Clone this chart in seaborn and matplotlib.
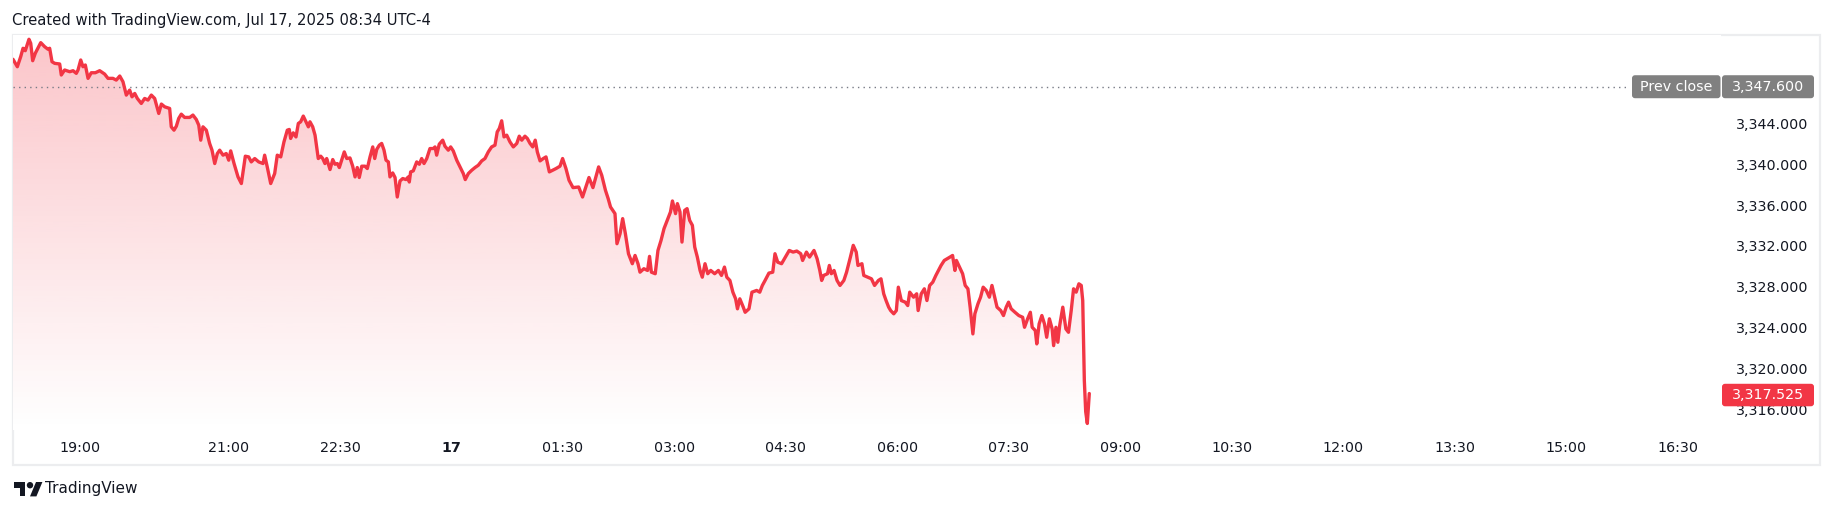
import numpy as np
import pandas as pd
import matplotlib
matplotlib.use("Agg")
import matplotlib.pyplot as plt
import seaborn as sns
from matplotlib.patches import FancyBboxPatch, Rectangle, Polygon, Circle
from matplotlib.transforms import IdentityTransform

# ---------------- data (minutes after 18:00 on Jul 16, price) ----------------
minutes = [5.9, 9.4, 12.1, 14.0, 15.8, 18.8, 20.2, 21.8, 23.9, 28.3,
           31.5, 34.2, 35.5, 37.4, 39.6, 43.6, 44.9, 47.6, 51.7, 54.4,
           57.0, 58.4, 60.6, 62.4, 64.3, 66.5, 69.1, 72.4, 75.9, 79.9,
           82.6, 86.6, 89.3, 92.1, 94.7, 97.4, 100.1, 102.0, 104.2, 106.3,
           109.5, 112.2, 114.9, 117.6, 120.3, 123.6, 125.7, 128.4, 132.4, 133.7,
           135.9, 137.8, 139.7, 141.8, 144.5, 148.6, 151.2, 153.9, 155.9, 157.5,
           159.3, 162.0, 164.7, 166.6, 168.8, 170.9, 172.8, 175.5, 178.1, 180.1,
           181.7, 184.4, 187.6, 190.3, 193.5, 196.2, 198.3, 201.1, 204.3, 207.8,
           209.1, 211.2, 214.0, 217.2, 219.3, 222.1, 224.7, 227.4, 229.0, 230.1,
           232.2, 234.4, 236.3, 238.2, 240.3, 242.5, 244.4, 245.7, 247.9, 249.8,
           252.4, 254.4, 256.0, 257.8, 259.2, 261.9, 264.1, 265.9, 267.8, 269.4,
           271.3, 273.4, 275.4, 278.0, 280.2, 282.1, 283.9, 285.5, 287.5, 290.1,
           292.0, 294.2, 296.4, 298.0, 299.6, 301.7, 303.6, 305.5, 307.1, 309.0,
           310.3, 312.5, 314.4, 316.2, 318.4, 320.6, 323.2, 325.1, 325.9, 327.0,
           329.1, 331.9, 334.0, 335.9, 337.8, 340.0, 342.6, 345.3, 346.7, 348.0,
           350.1, 352.9, 354.7, 357.4, 359.3, 361.4, 364.2, 366.9, 369.5, 371.1,
           373.6, 376.3, 379.0, 381.6, 384.4, 387.0, 389.7, 392.4, 395.1, 396.9,
           398.6, 400.5, 402.4, 404.6, 407.2, 409.9, 412.7, 414.7, 416.7, 419.3,
           421.2, 423.4, 425.6, 427.6, 429.3, 431.5, 434.1, 436.3, 439.0, 441.7,
           444.4, 447.6, 449.7, 452.4, 454.9, 458.1, 462.7, 465.8, 468.9, 471.0,
           474.2, 476.6, 478.8, 481.3, 484.3, 486.5, 488.4, 492.0, 493.6, 496.1,
           498.2, 500.4, 502.9, 506.0, 508.2, 510.6, 512.2, 515.3, 518.3, 519.9,
           521.4, 524.5, 526.7, 529.2, 531.6, 534.7, 536.8, 538.4, 540.9, 542.4,
           544.5, 546.1, 548.3, 550.2, 552.3, 554.5, 556.4, 558.5, 560.7, 562.5,
           564.7, 566.9, 569.3, 572.5, 575.5, 578.0, 580.4, 582.3, 584.8, 587.2,
           589.4, 590.9, 592.8, 595.6, 597.1, 600.2, 602.6, 606.4, 608.9, 611.0,
           613.2, 616.3, 619.4, 621.2, 623.4, 626.5, 629.6, 632.7, 635.8, 638.8,
           642.0, 643.5, 646.6, 649.1, 652.7, 655.2, 657.4, 658.9, 660.5, 663.6,
           665.1, 666.7, 668.9, 671.3, 673.7, 676.8, 679.0, 682.1, 684.4, 686.8,
           688.2, 691.4, 692.9, 696.0, 699.1, 701.6, 704.7, 706.8, 709.0, 710.9,
           713.0, 714.6, 717.1, 719.2, 720.8, 723.2, 726.4, 728.4, 730.0, 733.1,
           735.6, 736.8, 739.3, 741.8, 743.9, 746.1, 748.6, 751.1, 753.2, 755.3,
           757.9, 760.3, 762.5, 764.6, 766.5, 767.7, 770.2, 772.7, 774.8, 777.0,
           778.8, 781.0, 782.6, 785.1, 787.2, 789.3, 791.8, 794.3, 796.4, 798.6,
           800.5, 803.5, 805.7, 807.9, 809.8, 811.9, 815.0, 818.1, 821.2, 822.7,
           825.2, 827.4, 828.9, 831.4, 832.6, 834.5, 836.7, 838.8, 840.6, 842.8,
           845.0, 846.2, 848.1, 849.6, 851.1, 853.6, 856.1, 858.2, 860.4, 862.3,
           864.4, 866.6, 868.5, 869.7, 871.0, 872.1, 873.4, 875.0]

prices = [3350.29, 3349.56, 3350.54, 3351.37, 3351.13, 3352.25, 3351.86, 3350.15, 3350.88, 3351.92,
          3351.52, 3351.27, 3351.37, 3350.05, 3349.89, 3349.83, 3348.75, 3349.24, 3349.07, 3349.17,
          3348.91, 3349.24, 3350.22, 3349.56, 3349.73, 3348.42, 3348.97, 3348.97, 3349.17, 3348.84,
          3348.42, 3348.42, 3348.25, 3348.65, 3348.09, 3346.78, 3347.27, 3346.61, 3346.94, 3346.45,
          3345.96, 3346.45, 3346.29, 3346.78, 3346.45, 3344.98, 3345.90, 3345.63, 3345.47, 3343.67,
          3343.34, 3343.73, 3344.49, 3344.91, 3344.59, 3344.59, 3344.82, 3344.39, 3343.83, 3342.36,
          3343.67, 3343.34, 3342.03, 3341.38, 3340.07, 3341.05, 3341.38, 3340.89, 3341.05, 3340.40,
          3341.31, 3340.07, 3338.76, 3338.11, 3340.79, 3340.72, 3340.23, 3340.56, 3340.23, 3340.07,
          3340.89, 3339.74, 3338.11, 3339.09, 3340.89, 3340.72, 3342.19, 3343.34, 3343.41, 3342.53,
          3343.08, 3342.68, 3344.00, 3344.16, 3344.72, 3344.16, 3343.67, 3344.16, 3343.67, 3342.85,
          3340.56, 3340.79, 3340.56, 3340.07, 3340.56, 3339.48, 3340.46, 3340.00, 3340.07, 3339.68,
          3340.40, 3341.21, 3340.56, 3340.62, 3339.81, 3338.76, 3339.68, 3338.70, 3339.81, 3339.81,
          3339.58, 3340.72, 3341.70, 3340.56, 3341.45, 3341.87, 3342.04, 3341.38, 3340.40, 3340.23,
          3338.76, 3339.15, 3338.70, 3336.79, 3338.36, 3338.60, 3338.50, 3338.76, 3338.26, 3339.25,
          3339.35, 3340.23, 3340.00, 3340.56, 3340.07, 3340.56, 3341.54, 3341.54, 3341.70, 3340.89,
          3341.97, 3342.36, 3341.77, 3341.38, 3341.70, 3341.31, 3340.40, 3339.74, 3339.09, 3338.50,
          3339.09, 3339.41, 3339.68, 3339.90, 3340.33, 3340.56, 3341.21, 3341.70, 3341.87, 3343.17,
          3343.51, 3344.26, 3342.68, 3342.85, 3342.19, 3341.70, 3342.04, 3342.75, 3342.36, 3342.75,
          3342.53, 3342.04, 3341.70, 3342.36, 3341.21, 3340.33, 3340.56, 3340.72, 3339.25, 3339.41,
          3339.58, 3339.81, 3340.56, 3339.58, 3338.43, 3337.71, 3337.77, 3336.79, 3337.94, 3338.70,
          3337.71, 3338.76, 3339.74, 3338.92, 3337.45, 3336.63, 3335.81, 3335.16, 3332.21, 3333.19,
          3334.67, 3333.19, 3331.23, 3330.25, 3331.06, 3330.25, 3329.42, 3329.76, 3329.59, 3330.97,
          3329.42, 3329.27, 3331.55, 3332.54, 3333.69, 3334.67, 3335.32, 3336.40, 3335.16, 3336.14,
          3335.32, 3332.37, 3335.48, 3335.65, 3334.50, 3334.01, 3331.88, 3330.90, 3329.59, 3328.93,
          3330.25, 3329.27, 3329.59, 3329.27, 3329.59, 3329.10, 3329.92, 3328.93, 3328.61, 3327.46,
          3326.81, 3325.83, 3326.81, 3325.99, 3325.49, 3325.83, 3327.46, 3327.63, 3327.46, 3328.12,
          3328.61, 3329.33, 3329.42, 3331.23, 3330.40, 3330.25, 3330.90, 3331.55, 3331.39, 3331.49,
          3331.23, 3330.57, 3331.39, 3330.90, 3331.55, 3330.74, 3329.59, 3328.61, 3329.10, 3329.27,
          3330.08, 3329.27, 3329.59, 3328.61, 3328.12, 3328.61, 3329.42, 3330.90, 3332.05, 3331.39,
          3330.08, 3330.25, 3329.10, 3328.93, 3328.77, 3328.12, 3328.61, 3328.77, 3327.30, 3326.64,
          3325.99, 3325.66, 3325.34, 3325.66, 3327.95, 3326.64, 3326.48, 3326.15, 3327.46, 3326.97,
          3327.30, 3325.66, 3327.30, 3327.79, 3326.64, 3328.12, 3328.44, 3329.10, 3329.59, 3330.08,
          3330.57, 3330.74, 3330.90, 3331.06, 3329.59, 3330.57, 3329.92, 3329.27, 3328.12, 3327.79,
          3325.99, 3323.37, 3325.34, 3326.32, 3326.97, 3327.95, 3327.63, 3326.97, 3328.12, 3326.97,
          3325.99, 3325.66, 3325.17, 3325.99, 3326.48, 3325.83, 3325.49, 3325.17, 3325.00, 3324.02,
          3324.85, 3325.49, 3324.02, 3323.70, 3322.39, 3324.35, 3325.17, 3324.35, 3323.04, 3324.85,
          3323.86, 3322.22, 3324.02, 3322.55, 3324.19, 3325.99, 3323.86, 3323.53, 3325.66, 3327.79,
          3327.46, 3328.28, 3328.12, 3326.64, 3318.78, 3315.75, 3314.59, 3317.525]

prev_close = 3347.600
last_price = prices[-1]
price_ticks = [3316, 3320, 3324, 3328, 3332, 3336, 3340, 3344]
time_tick_minutes = [60, 180, 270, 360, 450, 540, 630, 720, 810, 900, 990, 1080, 1170, 1260, 1350]
time_tick_labels = ["19:00", "21:00", "22:30", "17", "01:30", "03:00", "04:30", "06:00",
                    "07:30", "09:00", "10:30", "12:00", "13:30", "15:00", "16:30"]
header = "Created with TradingView.com, Jul 17, 2025 08:34 UTC-4"

# ---------------- style ----------------
RED = "#F23645"
TXT = "#131722"
GRAY = "#808080"
sns.set_theme(style="white")
plt.rcParams["font.family"] = ["DejaVu Sans"]

W, H = 1835, 513
fig = plt.figure(figsize=(W / 100, H / 100), dpi=100)
fig.patch.set_facecolor("white")

# plot pane in pixel terms (top-origin)
PL, PR, PT, PB = 12.7, 1721.0, 35.0, 430.0
ax = fig.add_axes([PL / W, 1 - PB / H, (PR - PL) / W, (PB - PT) / H])
ax.set_facecolor("white")

XLIM = (5.66, 1385.1)
YLIM = (3313.95, 3352.67)

df = pd.DataFrame({"minute": minutes, "price": prices})

# gradient area fill under the line
poly = ax.fill_between(df["minute"], df["price"], YLIM[0], color="none", lw=0)
rgb = matplotlib.colors.to_rgb(RED)
grad = np.zeros((256, 1, 4))
grad[..., 0], grad[..., 1], grad[..., 2] = rgb
grad[:, 0, 3] = np.linspace(0.29, 0.0, 256)
im = ax.imshow(grad, extent=[XLIM[0], XLIM[1], YLIM[0], YLIM[1]], aspect="auto",
               origin="upper", zorder=1, interpolation="bilinear")
im.set_clip_path(poly.get_paths()[0], transform=ax.transData)

sns.lineplot(data=df, x="minute", y="price", color=RED, linewidth=2.4, ax=ax,
             zorder=4, sort=True, estimator=None)

ax.set_xlim(*XLIM)
ax.set_ylim(*YLIM)
ax.set_xlabel("")
ax.set_ylabel("")
for s in ax.spines.values():
    s.set_visible(False)
ax.grid(False)

# prev close dotted line (ends where the label starts)
label_left = 1632.0
ax.axhline(prev_close, xmin=0, xmax=(label_left - 4 - PL) / (PR - PL), color="#787B86",
           lw=1.0, linestyle=(0, (1, 3)), zorder=3)

# axes ticks
ax.yaxis.tick_right()
ax.set_yticks(price_ticks)
ax.set_yticklabels([f"{v:,.3f}" for v in price_ticks])
ax.tick_params(axis="y", length=0, pad=10.5, labelsize=10.3, labelcolor=TXT)
ax.set_xticks(time_tick_minutes)
ax.set_xticklabels(time_tick_labels)
ax.tick_params(axis="x", length=0, pad=8, labelsize=10.3, labelcolor=TXT)
ax.get_xticklabels()[3].set_fontweight("bold")

fig.canvas.draw()


def y_of(value):
    return ax.transData.transform((XLIM[0], value))[1]


def box(x0, x1, yc, h, color, text, bold=False):
    p = FancyBboxPatch((x0, yc - h / 2), x1 - x0, h,
                       boxstyle="round,pad=0,rounding_size=3",
                       facecolor=color, edgecolor="none",
                       transform=IdentityTransform(), zorder=10)
    fig.add_artist(p)
    fig.text((x0 + x1) / 2 / W, yc / H, text, ha="center", va="center",
             fontsize=10.3, color="white", zorder=11,
             fontweight="bold" if bold else "normal")


yc_prev = y_of(prev_close)
box(label_left, PR - 0.5, yc_prev, 23, GRAY, "Prev close")
box(PR + 1, 1814, yc_prev, 23, GRAY, f"{prev_close:,.3f}")
yc_last = y_of(last_price) - 1.5
box(PR + 1, 1814, yc_last, 22.5, RED, f"{last_price:,.3f}")

# outer frame
fig.add_artist(Rectangle((PL, H - 465), 1820 - PL, 465 - 35, facecolor="none",
                         edgecolor="#ECEDEF", lw=1.6, transform=IdentityTransform(),
                         zorder=0))

# header
fig.text(12 / W, 1 - 20 / H, header, ha="left", va="center", fontsize=10.6, color=TXT)

# TradingView logo (bottom-left)
s = 0.8
def lp(u, v):
    return (14 + u * s, H - (482 + (v - 4) * s))
fig.add_artist(Polygon([lp(14, 22), lp(7, 22), lp(7, 11), lp(0, 11), lp(0, 4), lp(14, 4)],
                       closed=True, facecolor=TXT, edgecolor="none",
                       transform=IdentityTransform()))
fig.add_artist(Circle(lp(20, 8), 4 * s, facecolor=TXT, edgecolor="none",
                      transform=IdentityTransform()))
fig.add_artist(Polygon([lp(28, 22), lp(20, 22), lp(27.5, 4), lp(35.5, 4)],
                       closed=True, facecolor=TXT, edgecolor="none",
                       transform=IdentityTransform()))
fig.text(45 / W, 1 - 489 / H, "TradingView", ha="left", va="center",
         fontsize=11, color=TXT)

fig.savefig("out.png", dpi=100)
